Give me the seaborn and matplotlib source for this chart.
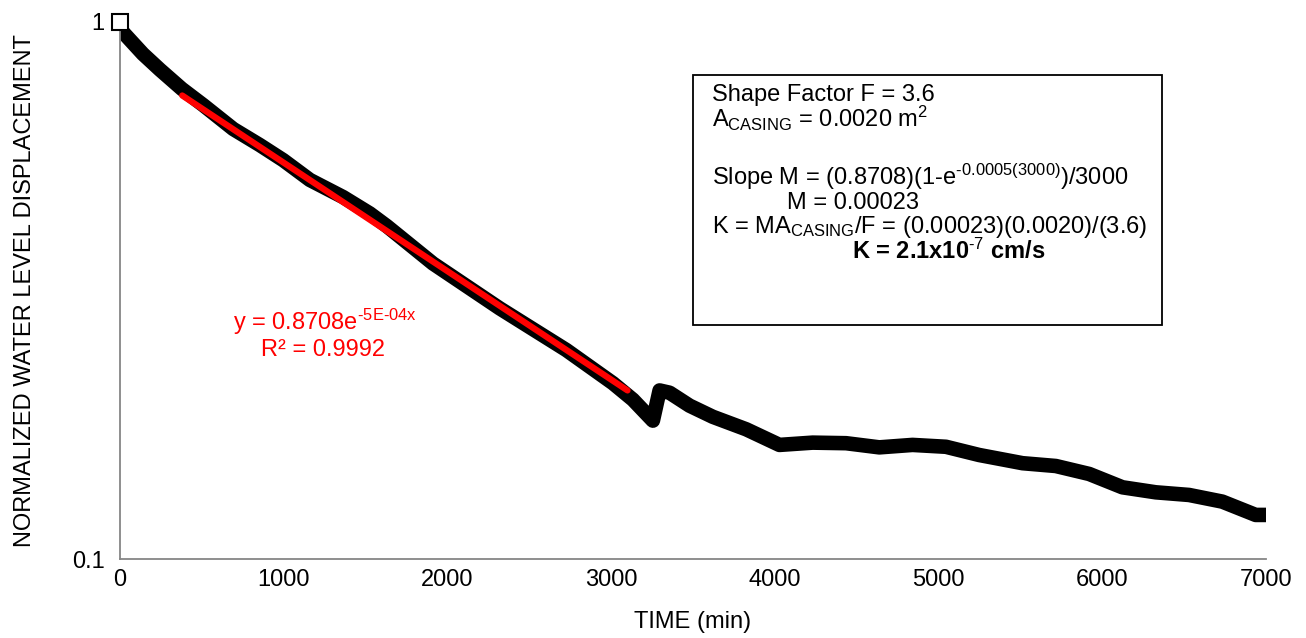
import numpy as np
import seaborn as sns
from matplotlib import pyplot as plt
from matplotlib.patches import Rectangle
from matplotlib.ticker import LogLocator, NullFormatter, FixedFormatter, FixedLocator, MultipleLocator

# Data
time_min = [0, 6, 50, 140, 244, 377, 509, 692, 854, 997, 1160, 1363, 1526, 1629, 1912, 2319,
            2726, 3011, 3133, 3255, 3296, 3357, 3479, 3621, 3825, 4028, 4231, 4435, 4638,
            4841, 5045, 5248, 5513, 5716, 5920, 6123, 6327, 6530, 6733, 6937, 7000]
displacement = [1.0, 0.966, 0.934, 0.872, 0.815, 0.751, 0.700, 0.632, 0.590, 0.553, 0.508,
                0.472, 0.440, 0.417, 0.355, 0.293, 0.245, 0.2125, 0.198, 0.181, 0.206, 0.204,
                0.193, 0.184, 0.1744, 0.1631, 0.1647, 0.1643, 0.1614, 0.1631, 0.1618, 0.1562,
                0.1508, 0.1490, 0.1440, 0.136, 0.1331, 0.1316, 0.1279, 0.1208, 0.1208]

# exponential trendline y = a*exp(-b*x)
fit_a = 0.8708
fit_b = 4.65e-4
trend_x = np.array([380, 3100])
trend_y = fit_a * np.exp(-fit_b * trend_x)

sns.set_style("white")
plt.rcParams['font.family'] = ['Liberation Sans', 'DejaVu Sans']
plt.rcParams['text.color'] = 'black'
plt.rcParams['axes.labelcolor'] = 'black'
plt.rcParams['mathtext.fontset'] = 'custom'
plt.rcParams['mathtext.rm'] = 'Liberation Sans'
plt.rcParams['mathtext.it'] = 'Liberation Sans:italic'
plt.rcParams['mathtext.bf'] = 'Liberation Sans:bold'

W, H = 1306, 638
fs = 17
grey = '#868686'

fig = plt.figure(figsize=(W / 100, H / 100), dpi=100)
ax = fig.add_axes([120 / W, 1 - 559 / H, (1266 - 120) / W, (559 - 22) / H])

sns.lineplot(x=time_min, y=displacement, ax=ax, color='black', linewidth=10.5,
             estimator=None, sort=False, solid_capstyle='round', solid_joinstyle='round')
ax.plot(time_min[:1], displacement[:1], marker='s', markersize=11, markerfacecolor='white',
        markeredgecolor='black', markeredgewidth=1.5, linestyle='none', clip_on=False, zorder=5)
sns.lineplot(x=trend_x, y=trend_y, ax=ax, color='#FF0000', linewidth=4.5,
             solid_capstyle='round', zorder=4)

ax.set_yscale('log')
ax.set_ylim(0.1, 1)
ax.set_xlim(0, 7000)
ax.xaxis.set_major_locator(MultipleLocator(1000))
ax.xaxis.set_minor_locator(MultipleLocator(200))
ax.yaxis.set_major_locator(FixedLocator([0.1, 1]))
ax.yaxis.set_major_formatter(FixedFormatter(['0.1', '1']))
ax.yaxis.set_minor_locator(LogLocator(base=10, subs=np.arange(2, 10)))
ax.yaxis.set_minor_formatter(NullFormatter())

for side in ['top', 'right']:
    ax.spines[side].set_visible(False)
for side in ['left', 'bottom']:
    ax.spines[side].set_color(grey)
    ax.spines[side].set_linewidth(1.3)

ax.tick_params(axis='x', which='major', direction='inout', length=11, width=1.3, color=grey,
               labelsize=fs, labelcolor='black', pad=2)
ax.tick_params(axis='x', which='minor', direction='out', length=5, width=1.3, color=grey)
ax.tick_params(axis='y', which='both', direction='out', length=4, width=1.3, color=grey,
               labelsize=fs, labelcolor='black', pad=7)

ax.set_xlabel('TIME (min)', fontsize=fs, labelpad=14)
ax.set_ylabel('NORMALIZED WATER LEVEL DISPLACEMENT', fontsize=fs, labelpad=26)

# trendline equation
fig.text(325 / W, 1 - 330 / H, r'y = 0.8708e$^{\text{-5E-04x}}$', color='#FF0000',
         fontsize=fs, ha='center', va='baseline')
fig.text(323 / W, 1 - 356 / H, 'R² = 0.9992', color='#FF0000',
         fontsize=fs, ha='center', va='baseline')

# calculation box
fig.add_artist(Rectangle((693 / W, 1 - 325 / H), (1162 - 693) / W, (325 - 75) / H,
                         transform=fig.transFigure, fill=False, edgecolor='black', linewidth=1.3))
box_lines = [
    (712, 101, 'Shape Factor F = 3.6', 'normal'),
    (712, 127, r'A$_{\mathrm{CASING}}$ = 0.0020 m$^{\mathrm{2}}$', 'normal'),
    (712, 185, r'Slope M = (0.8708)(1-e$^{\text{-0.0005(3000)}}$)/3000', 'normal'),
    (787, 209, 'M = 0.00023', 'normal'),
    (712, 233, r'K = MA$_{\mathrm{CASING}}$/F = (0.00023)(0.0020)/(3.6)', 'normal'),
    (852, 259, r'K = 2.1x10$^{\mathbf{\text{-7}}}$ cm/s', 'bold'),
]
for px, py, txt, weight in box_lines:
    fig.text(px / W, 1 - py / H, txt, fontsize=fs, fontweight=weight, ha='left', va='baseline')

plt.savefig('out.png', dpi=100)
plt.close()
